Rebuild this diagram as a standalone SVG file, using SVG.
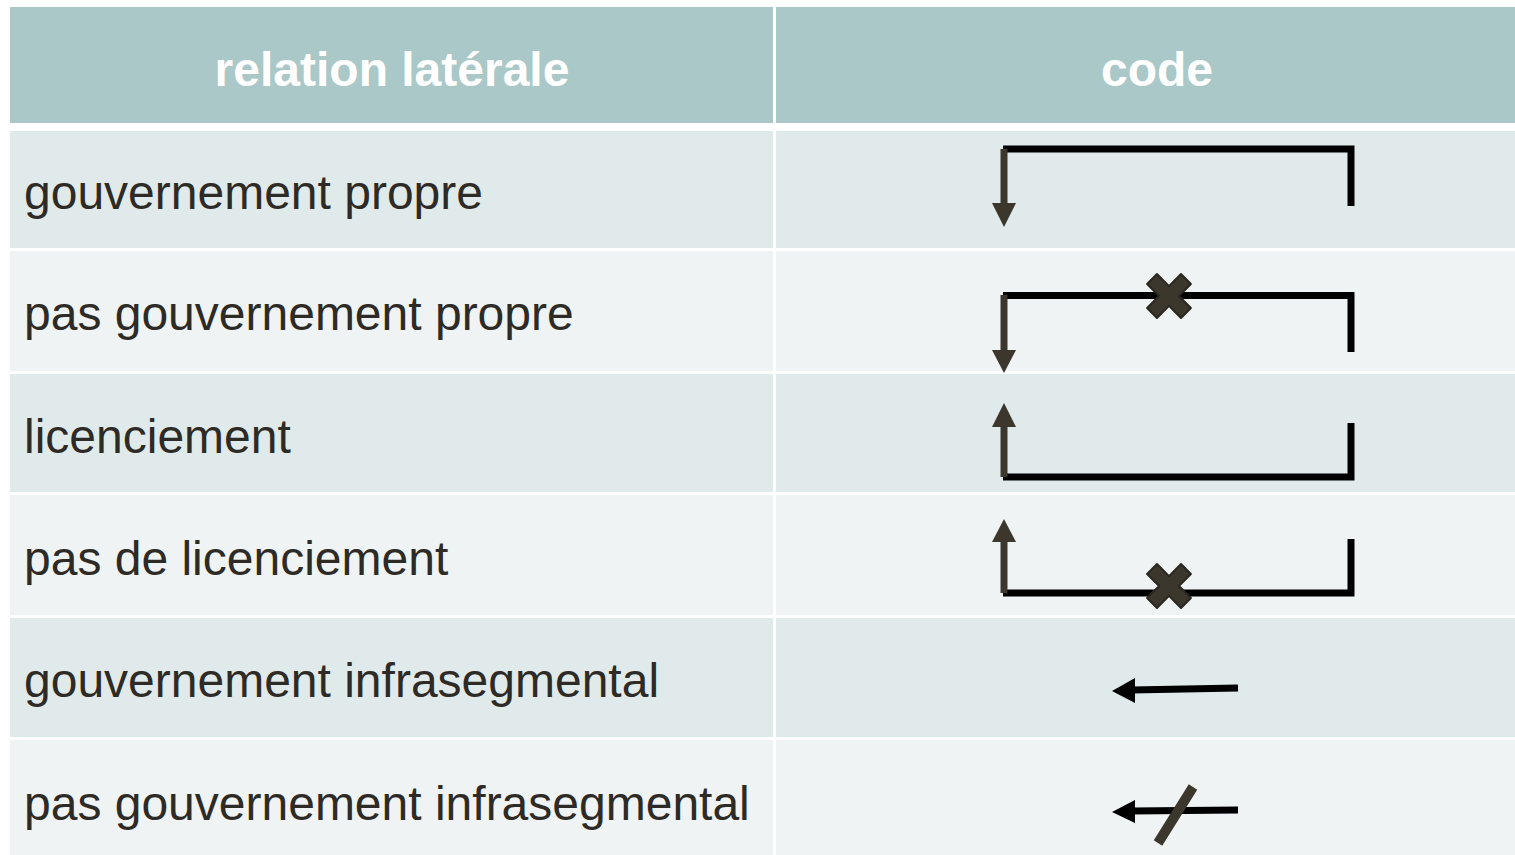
<svg xmlns="http://www.w3.org/2000/svg" xmlns:xlink="http://www.w3.org/1999/xlink" width="1515" height="855" viewBox="0 0 1515 855">
<style>
.hd{fill:#AAC8C8}
.odd{fill:#E1EAEB}
.even{fill:#EFF3F4}
.ht{font-family:"Liberation Sans",Arial,sans-serif;font-size:48px;font-weight:bold;fill:#ffffff;text-anchor:middle}
.lt{font-family:"Liberation Sans",Arial,sans-serif;font-size:48px;fill:#2E2A25}
.blk{stroke:#000;stroke-width:7;fill:none;stroke-linecap:butt}
.brn{stroke:#3B372D;stroke-width:7;fill:none}
.hb{fill:#3B372D}
.hk{fill:#000}
</style>
<defs>
<polygon id="xm" points="-7,-24 7,-24 7,-7 24,-7 24,7 7,7 7,24 -7,24 -7,7 -24,7 -24,-7 -7,-7" transform="rotate(45)" fill="#3B372D" stroke="#2A2720" stroke-width="2" stroke-linejoin="round"/>
</defs>
<rect width="1515" height="855" fill="#ffffff"/>
<g id="table">
<rect class="hd" x="10" y="7" width="763" height="116"/>
<rect class="hd" x="776" y="7" width="739" height="116"/>
<rect class="odd" x="10" y="131" width="763" height="117"/>
<rect class="odd" x="776" y="131" width="739" height="117"/>
<rect class="even" x="10" y="251" width="763" height="120"/>
<rect class="even" x="776" y="251" width="739" height="120"/>
<rect class="odd" x="10" y="374" width="763" height="118"/>
<rect class="odd" x="776" y="374" width="739" height="118"/>
<rect class="even" x="10" y="495" width="763" height="120"/>
<rect class="even" x="776" y="495" width="739" height="120"/>
<rect class="odd" x="10" y="618" width="763" height="119"/>
<rect class="odd" x="776" y="618" width="739" height="119"/>
<rect class="even" x="10" y="740" width="763" height="115"/>
<rect class="even" x="776" y="740" width="739" height="115"/>
</g>
<g id="header">
<text class="ht" x="392" y="86">relation latérale</text>
<text class="ht" x="1157" y="86">code</text>
</g>
<g id="labels">
<text class="lt" x="24" y="209">gouvernement propre</text>
<text class="lt" x="24" y="330">pas gouvernement propre</text>
<text class="lt" x="24" y="453">licenciement</text>
<text class="lt" x="24" y="575">pas de licenciement</text>
<text class="lt" x="24" y="697">gouvernement infrasegmental</text>
<text class="lt" x="24" y="820">pas gouvernement infrasegmental</text>
</g>
<g id="connectors">
<g id="code1">
<polyline class="blk" points="1003,149 1351,149 1351,206"/>
<line class="brn" x1="1004" y1="149" x2="1004" y2="205"/>
<polygon class="hb" points="992,203 1016,203 1004,227"/>
</g>
<g id="code2">
<polyline class="blk" points="1003,295.5 1351,295.5 1351,352"/>
<line class="brn" x1="1004" y1="295" x2="1004" y2="352"/>
<polygon class="hb" points="992,350 1016,350 1004,373"/>
<use xlink:href="#xm" x="1169" y="296"/>
</g>
<g id="code3">
<polyline class="blk" points="1003,477 1351,477 1351,423"/>
<line class="brn" x1="1004" y1="477" x2="1004" y2="425"/>
<polygon class="hb" points="992,427 1016,427 1004,403"/>
</g>
<g id="code4">
<polyline class="blk" points="1003,593 1351,593 1351,539"/>
<line class="brn" x1="1004" y1="593" x2="1004" y2="540"/>
<polygon class="hb" points="992,542 1016,542 1004,519"/>
<use xlink:href="#xm" x="1169" y="586"/>
</g>
<g id="code5">
<line class="blk" x1="1238" y1="688" x2="1132" y2="690"/>
<polygon class="hk" points="1135,678 1135,703 1112,691"/>
</g>
<g id="code6">
<line class="blk" x1="1238" y1="810" x2="1132" y2="811"/>
<polygon class="hk" points="1135,800 1135,823 1112,812"/>
<line x1="1193" y1="787" x2="1158" y2="843" stroke="#3B372D" stroke-width="10"/>
</g>
</g>
</svg>
